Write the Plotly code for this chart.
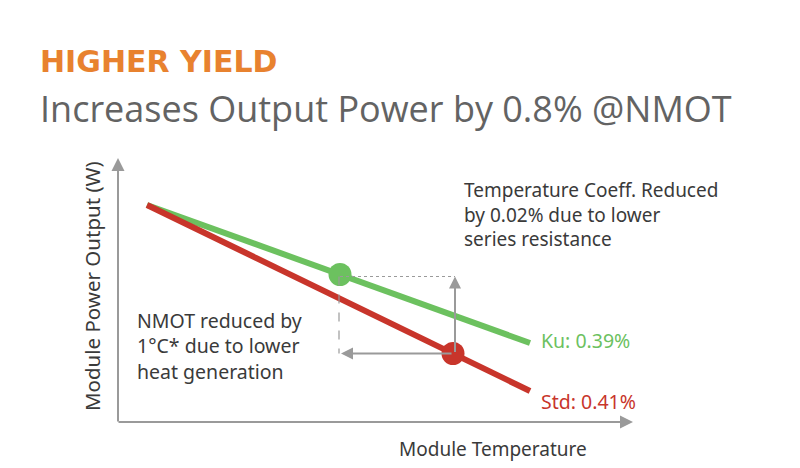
import plotly.graph_objects as go

# ---- data (chart units: x = module temperature, y = module power output) ----
temperature = [2.9, 41.2]
ku_power = [21.7, 7.9]
std_power = [21.7, 3.1]
ku_label = "Ku: 0.39%"
std_label = "Std: 0.41%"
nmot_ku = 22.2
nmot_ku_power = 14.75
nmot_std = 33.5
nmot_std_power = 6.85
x_axis_max = 51.5
y_axis_max = 26.4

GREEN = "#6cc15f"
RED = "#c8352b"
GRAY = "#9a9a9a"
TEXT = "#3a3a3a"

fig = go.Figure()

fig.add_trace(go.Scatter(x=temperature, y=ku_power, mode="lines",
                         line=dict(color=GREEN, width=6), hoverinfo="skip"))
fig.add_trace(go.Scatter(x=temperature, y=std_power, mode="lines",
                         line=dict(color=RED, width=6), hoverinfo="skip"))

# dashed guide box
box_top = nmot_ku_power - 0.2
fig.add_shape(type="line", x0=nmot_ku, y0=box_top, x1=nmot_std + 0.2, y1=box_top,
              line=dict(color=GRAY, width=1.2, dash="dot"))
fig.add_shape(type="line", x0=nmot_ku - 0.1, y0=box_top, x1=nmot_ku - 0.1, y1=nmot_std_power,
              line=dict(color=GRAY, width=1.2, dash="dash"))

# inner arrows
fig.add_annotation(x=nmot_std + 0.2, y=box_top, ax=nmot_std + 0.2, ay=nmot_std_power,
                   xref="x", yref="y", axref="x", ayref="y", text="", showarrow=True,
                   arrowhead=2, arrowsize=1.2, arrowwidth=2, arrowcolor=GRAY)
fig.add_annotation(x=nmot_ku + 0.1, y=nmot_std_power, ax=nmot_std, ay=nmot_std_power,
                   xref="x", yref="y", axref="x", ayref="y", text="", showarrow=True,
                   arrowhead=2, arrowsize=1.2, arrowwidth=2, arrowcolor=GRAY)

# dots
fig.add_trace(go.Scatter(x=[nmot_ku], y=[nmot_ku_power], mode="markers",
                         marker=dict(color=GREEN, size=23), hoverinfo="skip"))
fig.add_trace(go.Scatter(x=[nmot_std], y=[nmot_std_power], mode="markers",
                         marker=dict(color=RED, size=23), hoverinfo="skip"))

# axes as arrows
fig.add_annotation(x=0, y=y_axis_max, ax=0, ay=-0.1, xref="x", yref="y", axref="x", ayref="y",
                   text="", showarrow=True, arrowhead=2, arrowsize=1.3, arrowwidth=2, arrowcolor=GRAY)
fig.add_annotation(x=x_axis_max, y=0, ax=-0.1, ay=0, xref="x", yref="y", axref="x", ayref="y",
                   text="", showarrow=True, arrowhead=2, arrowsize=1.3, arrowwidth=2, arrowcolor=GRAY)

font_body = "Noto Sans"

fig.add_annotation(x=37.5, y=-2.7, xref="x", yref="y",
                   text="Module Temperature", showarrow=False,
                   font=dict(family=font_body, size=19, color=TEXT), xanchor="center", yanchor="middle")
fig.add_annotation(x=-2.6, y=13.6, xref="x", yref="y", text="Module Power Output (W)",
                   textangle=-90, showarrow=False,
                   font=dict(family=font_body, size=20.5, color=TEXT), xanchor="center", yanchor="middle")

fig.add_annotation(x=34.4, y=24.7, xref="x", yref="y",
                   text="Temperature Coeff. Reduced<br>by 0.02% due to lower<br>series resistance",
                   showarrow=False, align="left", xanchor="left", yanchor="top",
                   font=dict(family=font_body, size=19, color=TEXT))
fig.add_annotation(x=1.7, y=11.7, xref="x", yref="y",
                   text="NMOT reduced by<br>1°C* due to lower<br>heat generation",
                   showarrow=False, align="left", xanchor="left", yanchor="top",
                   font=dict(family=font_body, size=19.5, color=TEXT))
fig.add_annotation(x=42.1, y=8.2, xref="x", yref="y", text=ku_label, showarrow=False,
                   xanchor="left", yanchor="middle", font=dict(family=font_body, size=19.5, color=GREEN))
fig.add_annotation(x=42.1, y=2.1, xref="x", yref="y", text=std_label, showarrow=False,
                   xanchor="left", yanchor="middle", font=dict(family=font_body, size=19.5, color=RED))

# titles
fig.add_annotation(x=38 / 800, y=1 - 62 / 468, xref="paper", yref="paper", text="HIGHER YIELD",
                   showarrow=False, xanchor="left", yanchor="middle",
                   font=dict(family="DejaVu Sans", size=30, color="#e8822f", weight="bold"))
fig.add_annotation(x=38 / 800, y=1 - 108 / 468, xref="paper", yref="paper",
                   text="Increases Output Power by 0.8% @NMOT",
                   showarrow=False, xanchor="left", yanchor="middle",
                   font=dict(family="Open Sans", size=36, color="#636363", weight=500))

fig.update_layout(
    width=800, height=468,
    margin=dict(l=0, r=0, t=0, b=0),
    paper_bgcolor="white", plot_bgcolor="white",
    showlegend=False,
    xaxis=dict(range=[-11.8, 68.2], visible=False, fixedrange=True),
    yaxis=dict(range=[-4.6, 42.2], visible=False, fixedrange=True),
)

fig.write_html("out.html", config={"displayModeBar": False},
               post_script="document.body.style.margin='0px';")
